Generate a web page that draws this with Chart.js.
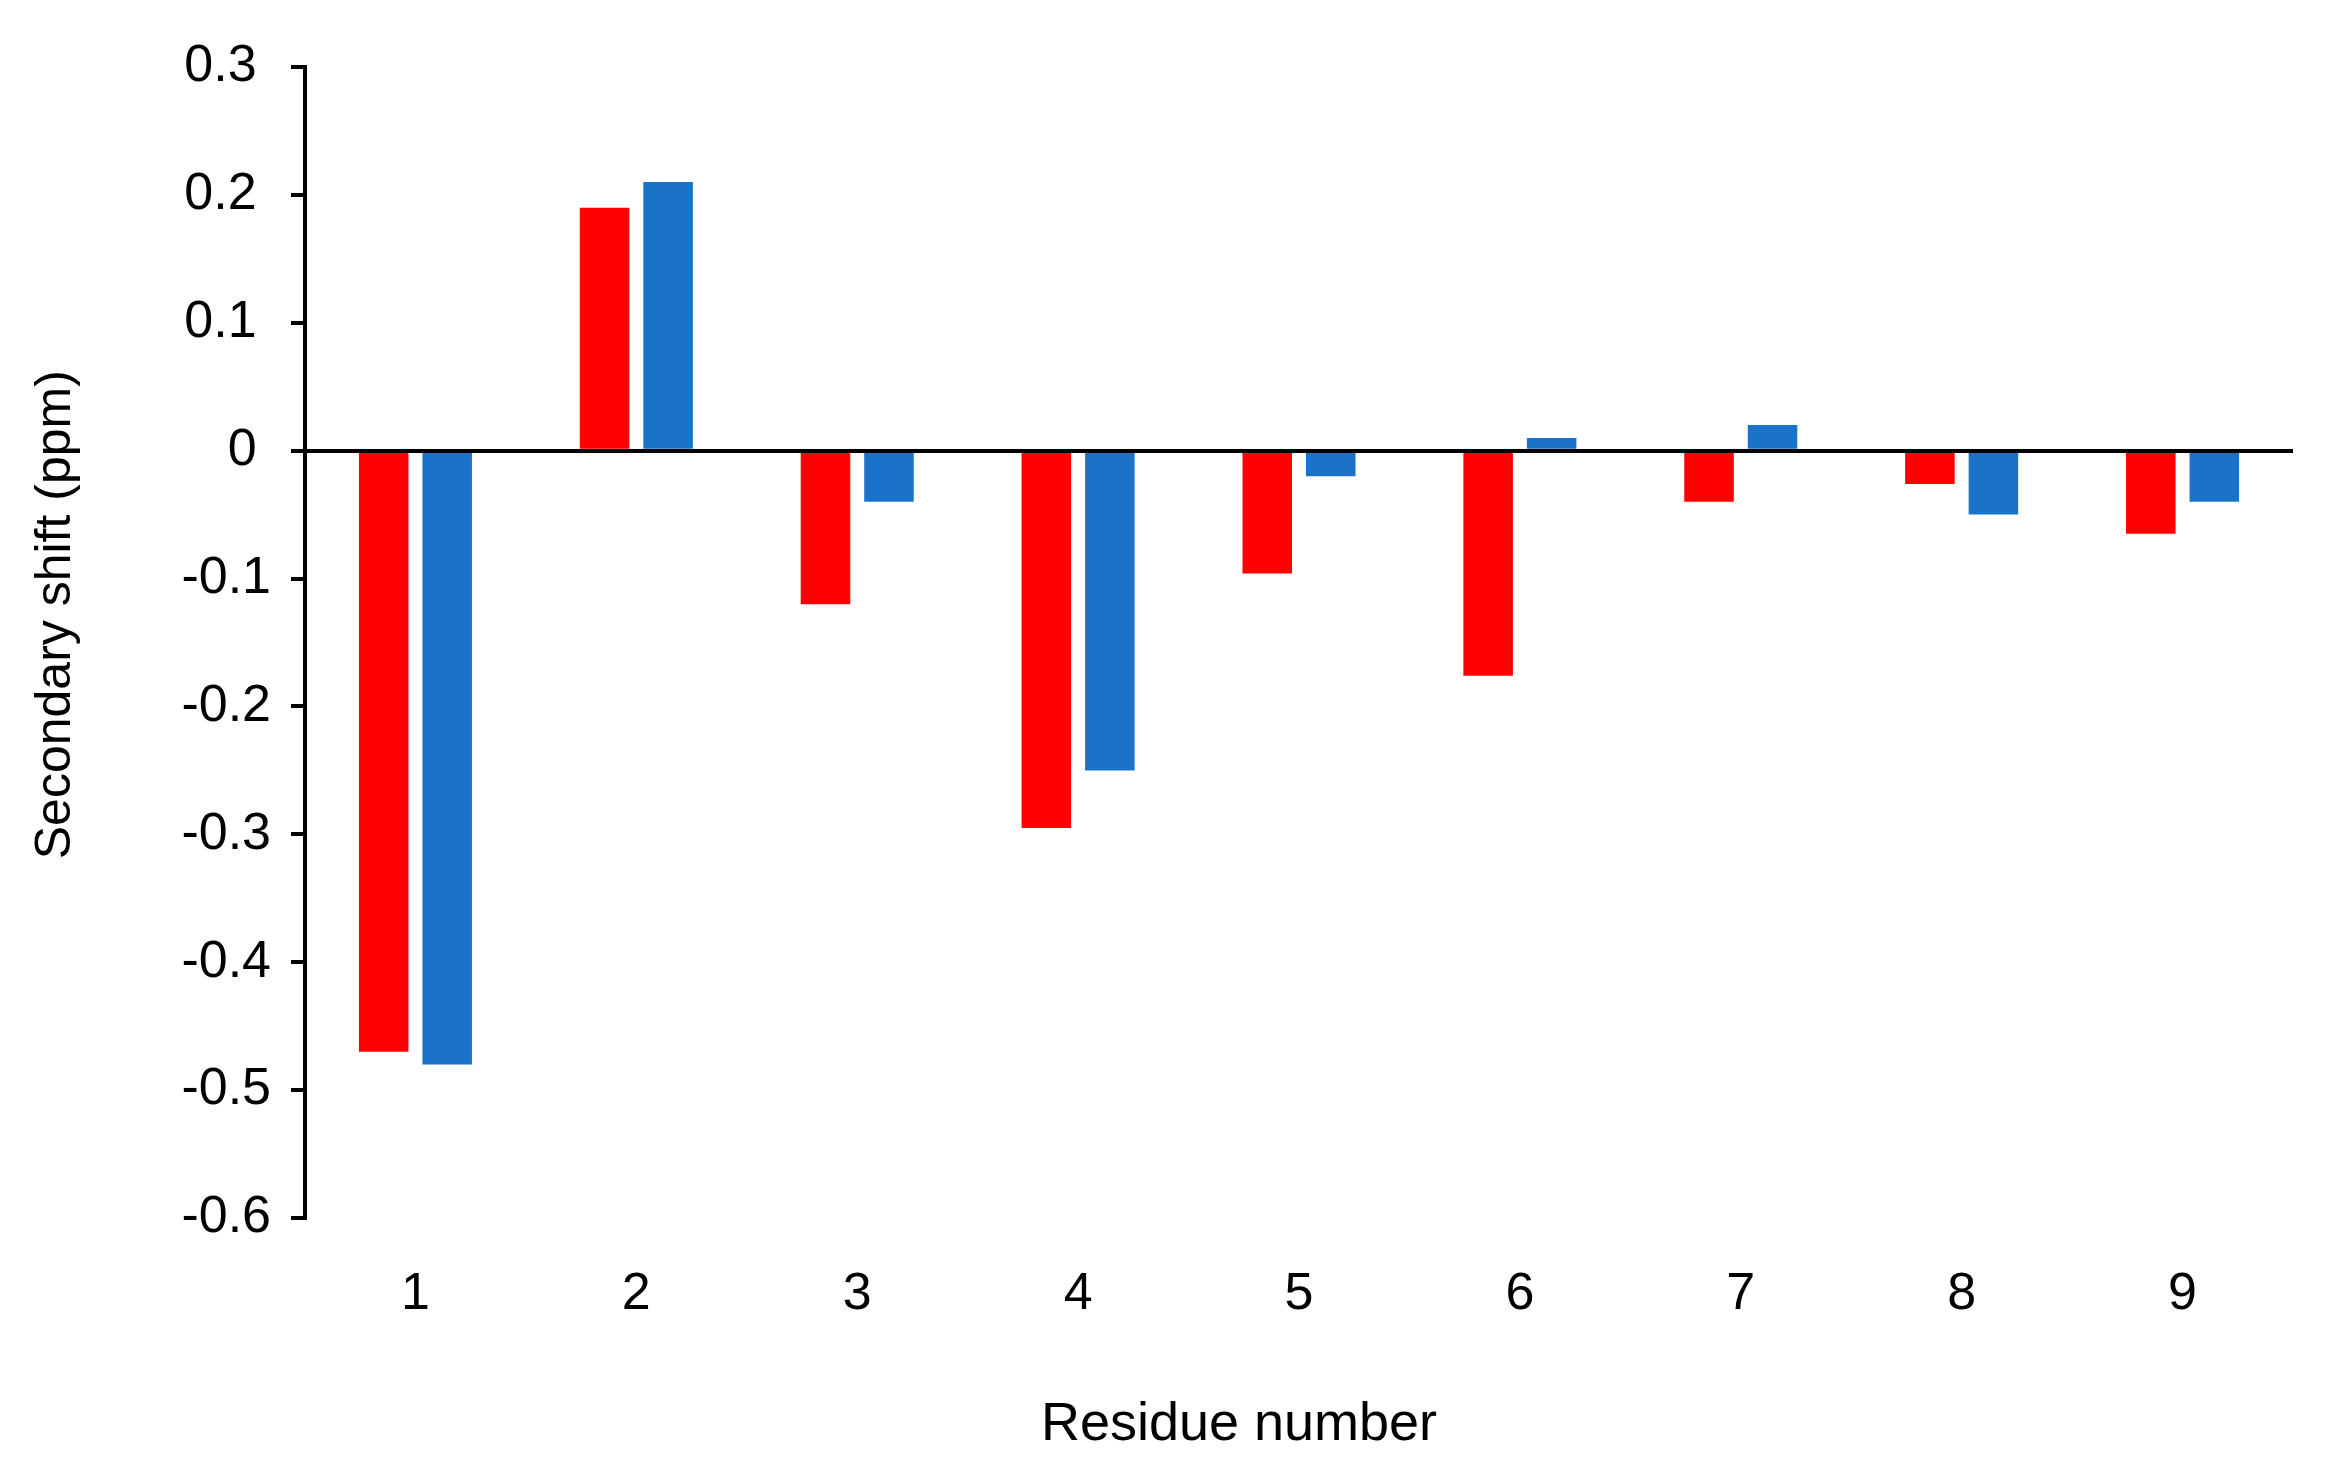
<!DOCTYPE html>
<html lang="en">
<head>
<meta charset="UTF-8">
<title>Secondary shift</title>
<script src="https://cdn.jsdelivr.net/npm/chart.js"></script>
<style>
  html, body { margin: 0; padding: 0; background: #fff; }
  #wrap { width: 2325px; height: 1469px; }
</style>
</head>
<body>
<div id="wrap"><canvas id="chart" width="2325" height="1469"></canvas></div>
<script>
// values
const residues = ['1', '2', '3', '4', '5', '6', '7', '8', '9'];
const redShift = [-0.47, 0.19, -0.12, -0.295, -0.096, -0.176, -0.04, -0.026, -0.065];
const blueShift = [-0.48, 0.21, -0.04, -0.25, -0.02, 0.01, 0.02, -0.05, -0.04];
const yTicks = [0.3, 0.2, 0.1, 0, -0.1, -0.2, -0.3, -0.4, -0.5, -0.6];

const FONT = 'Liberation Sans, Arial, Helvetica, sans-serif';

const ctx = document.getElementById('chart').getContext('2d');
new Chart(ctx, {
  type: 'bar',
  data: {
    labels: residues,
    datasets: [
      { label: 'red', data: redShift, backgroundColor: '#ff0000', borderWidth: 0 },
      { label: 'blue', data: blueShift, backgroundColor: '#1a73c9', borderWidth: 0 }
    ]
  },
  options: {
    responsive: false,
    devicePixelRatio: 1,
    animation: false,
    layout: { padding: { left: 20, top: 67, right: 32, bottom: 0 } },
    datasets: {
      bar: { categoryPercentage: 0.575, barPercentage: 0.78 }
    },
    plugins: {
      legend: { display: false },
      tooltip: { enabled: false }
    },
    scales: {
      x: {
        grid: { display: false, drawTicks: false },
        border: { display: false },
        ticks: { color: '#000', font: { family: FONT, size: 52 }, padding: 45 },
        title: {
          display: true,
          // trailing spaces nudge the centred title a bit to the left, as in the figure
          text: 'Residue number        ',
          color: '#000',
          font: { family: FONT, size: 54 },
          padding: { top: 0, bottom: 11 }
        },
        afterFit: (scale) => { scale.height = 1469 - 1218; }
      },
      y: {
        min: -0.6,
        max: 0.3,
        afterBuildTicks: (scale) => { scale.ticks = yTicks.map(v => ({ value: v })); },
        grid: {
          z: 1,
          color: (c) => (c.tick && Math.abs(c.tick.value) < 1e-9) ? '#000' : 'rgba(0,0,0,0)',
          tickColor: '#000',
          lineWidth: 4,
          tickLength: 14
        },
        border: { display: true, color: '#000', width: 4, z: 1 },
        ticks: {
          color: '#000',
          font: { family: FONT, size: 52 },
          padding: 20,
          callback: (v) => {
            const s = String(Math.round(v * 10) / 10);
            return v >= 0 ? s + ' ' : s;
          }
        },
        title: {
          display: true,
          text: '    Secondary shift (ppm)',
          color: '#000',
          font: { family: FONT, size: 50 },
          padding: { top: 6, bottom: 0 }
        },
        afterFit: (scale) => { scale.width = 305 - 20; }
      }
    }
  }
});
</script>
</body>
</html>
